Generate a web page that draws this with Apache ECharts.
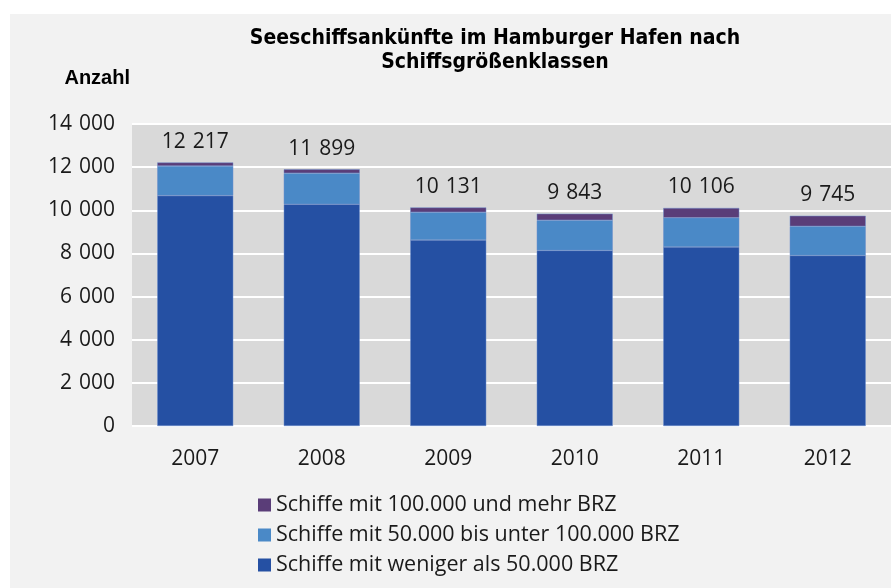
<!DOCTYPE html>
<html>
<head>
<meta charset="utf-8">
<script src="https://cdn.jsdelivr.net/npm/echarts@6/dist/echarts.min.js"></script>
<style>
  html, body { margin: 0; padding: 0; background: #ffffff; }
  #main { width: 891px; height: 588px; }
</style>
</head>
<body>
<div id="main"></div>
<script>
// data
const years = ['2007', '2008', '2009', '2010', '2011', '2012'];
const small = [10680, 10280, 8620, 8140, 8300, 7905];   // weniger als 50.000 BRZ
const medium = [1377, 1440, 1290, 1400, 1350, 1350];    // 50.000 bis unter 100.000 BRZ
const large = [160, 179, 221, 303, 456, 490];           // 100.000 und mehr BRZ
const totals = [12217, 11899, 10131, 9843, 10106, 9745];

const seriesNames = [
    'Schiffe mit weniger als 50.000 BRZ',
    'Schiffe mit 50.000 bis unter 100.000 BRZ',
    'Schiffe mit 100.000 und mehr BRZ'
];

// thousands separated by a space, like the original
const fmt = (v) => String(v).replace(/\B(?=(\d{3})+(?!\d))/g, '\u2004');
const font = 'Open Sans';

const chart = echarts.init(document.getElementById('main'));

const option = {
    animation: false,
    backgroundColor: '#ffffff',
    graphic: [
        { type: 'rect', z: -10, shape: { x: 10, y: 14, width: 881, height: 574 }, style: { fill: '#f2f2f2' } }
    ],
    title: {
        text: 'Seeschiffsankünfte im Hamburger Hafen nach\nSchiffsgrößenklassen',
        left: 490,
        textAlign: 'center',
        top: 22,
        textStyle: {
            fontFamily: 'DejaVu Sans Condensed',
            fontWeight: 'bold',
            fontSize: 21,
            lineHeight: 24,
            color: '#000'
        }
    },
    legend: {
        orient: 'vertical',
        left: 253,
        top: 489,
        itemWidth: 13,
        itemHeight: 13,
        itemGap: 8,
        icon: 'rect',
        itemStyle: { borderWidth: 0 },
        data: [seriesNames[2], seriesNames[1], seriesNames[0]],
        textStyle: { fontFamily: font, fontSize: 21.5, color: '#1a1a1a' }
    },
    grid: {
        left: 132,
        right: -10,
        top: 124,
        bottom: 162,
        show: true,
        backgroundColor: '#d9d9d9',
        borderWidth: 0
    },
    xAxis: {
        type: 'category',
        data: years,
        axisLine: { show: false },
        axisTick: { show: false },
        axisLabel: { fontFamily: font, fontSize: 21, color: '#1a1a1a', margin: 23 }
    },
    yAxis: {
        type: 'value',
        name: 'Anzahl',
        nameLocation: 'end',
        nameGap: 36,
        nameTextStyle: { fontFamily: 'Liberation Sans', fontWeight: 'bold', fontSize: 20, color: '#000', align: 'right', padding: [0, 2, 0, 0] },
        min: 0,
        max: 14000,
        interval: 2000,
        axisLine: { show: false },
        axisTick: { show: false },
        splitLine: { lineStyle: { color: '#ffffff', width: 2 } },
        axisLabel: { fontFamily: font, fontSize: 21, color: '#1a1a1a', margin: 17, formatter: fmt }
    },
    series: [
        {
            name: seriesNames[0], type: 'bar', stack: 'a', data: small, barWidth: 76,
            itemStyle: { color: '#2550a3', borderColor: '#6f8fcc', borderWidth: 0.5 }
        },
        {
            name: seriesNames[1], type: 'bar', stack: 'a', data: medium,
            itemStyle: { color: '#4a89c7', borderColor: '#6f8fcc', borderWidth: 0.5 }
        },
        {
            name: seriesNames[2], type: 'bar', stack: 'a', data: large,
            itemStyle: { color: '#5a3d78', borderColor: '#6f8fcc', borderWidth: 0.5 },
            label: {
                show: true,
                position: 'top',
                distance: 10,
                fontFamily: font,
                fontSize: 21,
                color: '#1a1a1a',
                formatter: (p) => fmt(totals[p.dataIndex])
            }
        }
    ]
};

chart.setOption(option);
</script>
</body>
</html>
